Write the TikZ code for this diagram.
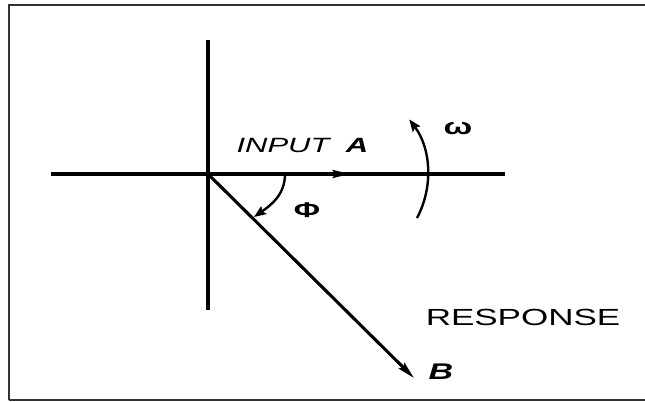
\documentclass[tikz,border=0pt]{standalone}
\usepackage{fontspec}
\setmainfont{Liberation Sans}
\usetikzlibrary{arrows.meta}
\definecolor{frameGray}{HTML}{333333}

\begin{document}
\begin{tikzpicture}[
  x=0.75pt, y=0.75pt,
  axis/.style={line width=2.3pt},
  vec/.style={line width=2.3pt, -{Stealth[length=13pt, width=6pt, inset=2pt]}},
  turn/.style={line width=1.8pt, -{Stealth[length=9pt, width=7pt, inset=1.5pt]}},
  lbl/.style={inner sep=0pt, xscale=1.5},
]
  \useasboundingbox (0,0) rectangle (645,-401);
  % frame
  \draw[frameGray, line width=1.6pt] (9,-400) -- (9,-5) -- (646,-5);
  \draw[frameGray, line width=1.6pt] (9,-400) -- (646,-400);

  % axes
  \coordinate (O) at (208,-174);
  \coordinate (xl) at (51,-174);
  \coordinate (xr) at (505,-174);
  \coordinate (yt) at (208,-40);
  \coordinate (yb) at (208,-310);
  \draw[axis] (xl) -- (xr);
  \draw[axis] (yt) -- (yb);

  % input and response vectors
  \coordinate (tipA) at (350,-174);
  \coordinate (tipB) at (414,-378);
  \draw[vec] (O) -- (tipA);
  \draw[vec] (O) -- (tipB);

  % phase angle and rotation
  \coordinate (phiS) at (285,-174);
  \coordinate (phiE) at (254,-217);
  \draw[turn] (phiS) to[out=-90, in=35] (phiE);
  \coordinate (omS) at (417,-218);
  \draw[turn] (omS) arc[start angle=-28, end angle=37, radius=92];

  % labels
  \node[lbl, font=\fontsize{15.5}{18}\selectfont\itshape] (input) at (283,-145) {INPUT};
  \node[lbl, font=\fontsize{15.5}{18}\selectfont\bfseries\itshape] (labA) at (357,-145) {A};
  \node[lbl, font=\fontsize{17}{18}\selectfont\bfseries] (omega) at (458,-128) {ω};
  \node[lbl, font=\fontsize{16}{18}\selectfont\bfseries] (phi) at (307,-210) {Φ};
  \node[lbl, font=\fontsize{17.5}{20}\selectfont] (resp) at (523,-317) {RESPONSE};
  \node[lbl, font=\fontsize{17}{20}\selectfont\bfseries\itshape] (labB) at (441,-372) {B};
\end{tikzpicture}
\end{document}
